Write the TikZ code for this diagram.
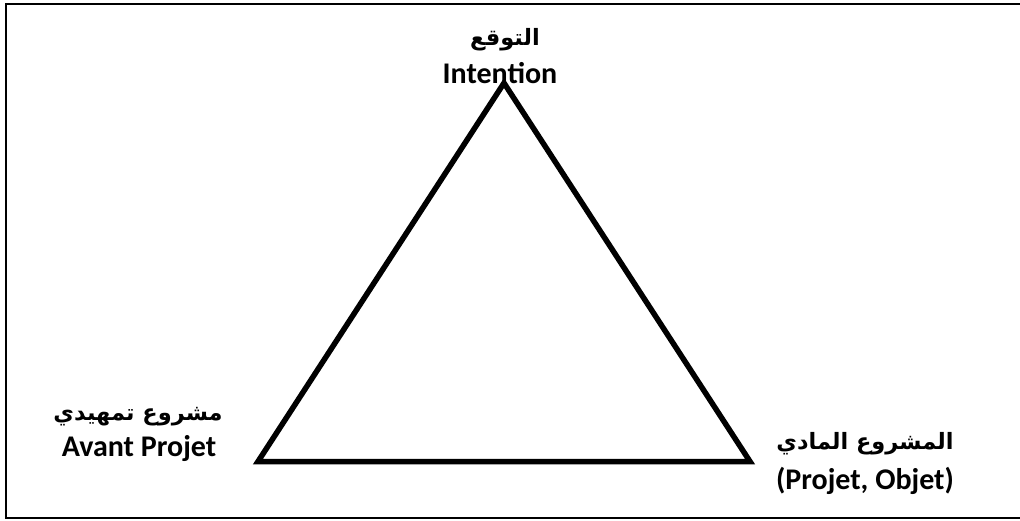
\documentclass[tikz,border=0pt]{standalone}
\usepackage{fontspec}
\setmainfont{Carlito}
\newfontfamily\arabicfont[Script=Arabic]{DejaVu Sans}
\TeXXeTstate=1
\usetikzlibrary{positioning}

\begin{document}
\begin{tikzpicture}[x=1pt, y=-1pt,
    latin/.style={font=\fontsize{30}{34}\selectfont\bfseries, inner sep=0pt},
    arab/.style={font=\arabicfont\fontsize{22.5}{27}\selectfont\bfseries, inner sep=0pt}]
    \useasboundingbox (0,0) rectangle (1020,520);

    % Frame
    \draw[line width=2.5pt] (6,4) rectangle (1030,518);

    % Triangle
    \coordinate (apex) at (504,83);
    \coordinate (avant) at (258,461.5);
    \coordinate (objet) at (750,461.5);
    \draw[line width=5.5pt, line join=miter] (apex) -- (avant) -- (objet) -- cycle;

    % Labels
    \node[arab] (intAr) at (505,40) {\beginR التوقع\endR};
    \node[latin, anchor=base] (intFr) at (500,83) {Intention};

    \node[arab] (avAr) at (138,417) {\beginR مشروع تمهيدي\endR};
    \node[latin, anchor=base] (avFr) at (139,456) {Avant Projet};

    \node[arab] (objAr) at (865,444) {\beginR المشروع المادي\endR};
    \node[latin, anchor=base] (objFr) at (865,489) {(Projet, Objet)};
\end{tikzpicture}
\end{document}
